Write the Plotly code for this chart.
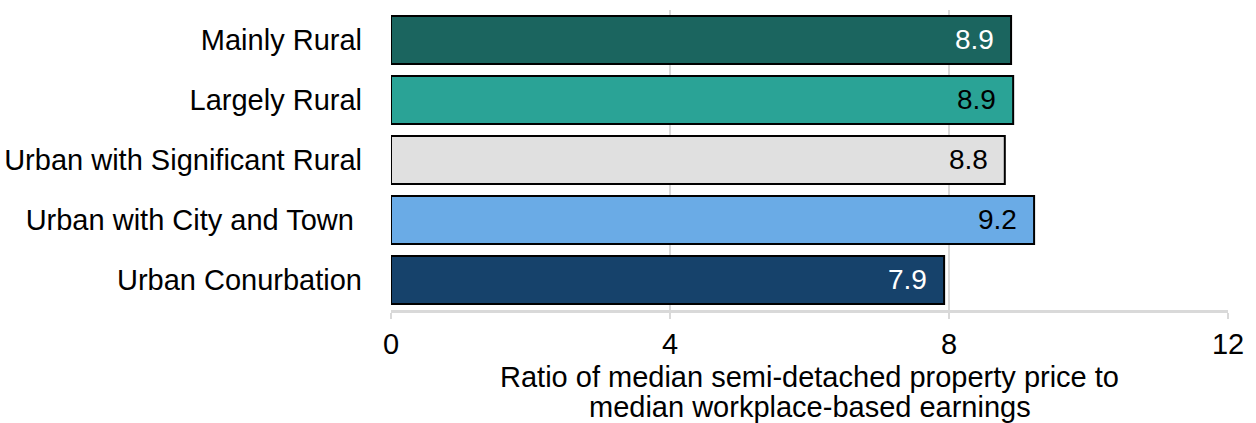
import plotly.graph_objects as go

categories = [
    "Mainly Rural",
    "Largely Rural",
    "Urban with Significant Rural",
    "Urban with City and Town ",
    "Urban Conurbation",
]
ratios = [8.89, 8.92, 8.80, 9.22, 7.93]
bar_colors = ["#1b655f", "#2aa396", "#e0e0e0", "#6aabe6", "#16426b"]
label_colors = ["white", "black", "black", "black", "white"]
x_ticks = [0, 4, 8, 12]
x_title_lines = [
    "Ratio of median semi-detached property price to",
    "median workplace-based earnings",
]

FONT = "Liberation Sans, Arial"

fig = go.Figure(
    go.Bar(
        y=categories,
        x=ratios,
        orientation="h",
        marker=dict(color=bar_colors, line=dict(color="black", width=2)),
        hoverinfo="x+y",
    )
)

# value labels sitting just inside the end of each bar
for cat, val, col in zip(categories, ratios, label_colors):
    fig.add_annotation(
        x=val,
        y=cat,
        text=f"{val:.1f}",
        showarrow=False,
        xanchor="right",
        xshift=-15,
        yshift=1,
        font=dict(size=28, color=col, family=FONT),
    )

# x-axis title, two tightly spaced lines below the tick labels
for line, ypos in zip(x_title_lines, [-0.222, -0.322]):
    fig.add_annotation(
        x=0.5,
        y=ypos,
        xref="paper",
        yref="paper",
        text=line,
        showarrow=False,
        xanchor="center",
        yanchor="middle",
        borderpad=0,
        font=dict(size=29, color="black", family=FONT),
    )

fig.update_layout(
    width=1256,
    height=423,
    margin=dict(l=391, r=28, t=10, b=113),
    plot_bgcolor="white",
    paper_bgcolor="white",
    bargap=0.2,
    showlegend=False,
    font=dict(family=FONT, size=29, color="black"),
)

fig.update_yaxes(
    autorange="reversed",
    automargin=False,
    ticks="",
    ticklabelstandoff=28,
    showline=False,
    showgrid=False,
    tickfont=dict(size=29),
)

fig.update_xaxes(
    range=[0, 12],
    automargin=False,
    tickvals=x_ticks,
    ticktext=[str(t) for t in x_ticks],
    showgrid=True,
    gridcolor="#d9d9d9",
    gridwidth=2,
    zeroline=False,
    showline=True,
    linecolor="#d9d9d9",
    linewidth=3,
    ticks="outside",
    ticklen=6,
    tickwidth=2,
    tickcolor="#d9d9d9",
    tickfont=dict(size=29),
)

fig.write_html("out.html")
